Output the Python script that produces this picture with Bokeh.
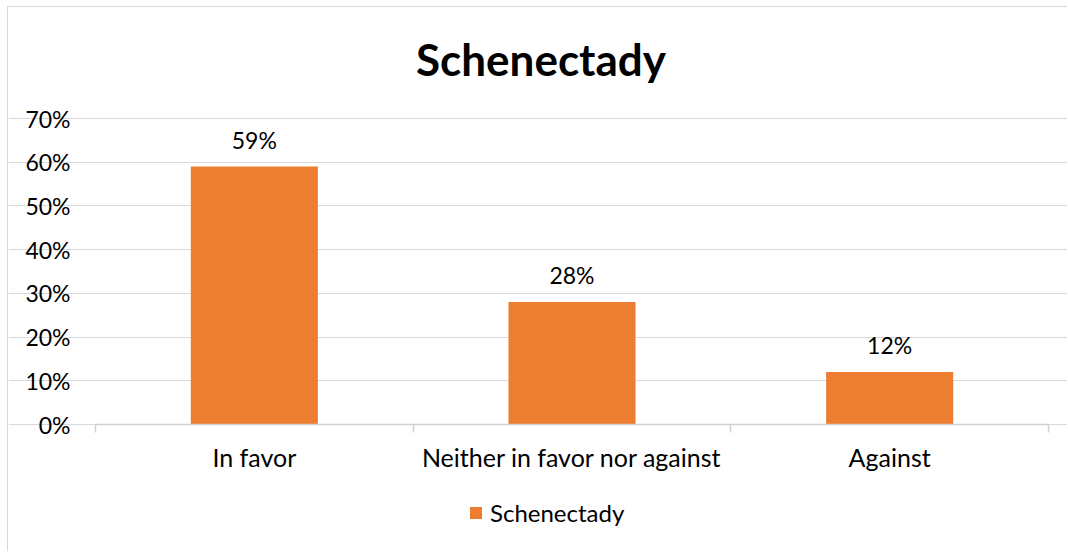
from bokeh.plotting import figure
from bokeh.models import (Range1d, FixedTicker, NumeralTickFormatter, ColumnDataSource,
                          LabelSet, Label, Legend, LegendItem, LinearAxis, Grid)
from bokeh.core.properties import value
from bokeh.embed import file_html
from bokeh.resources import INLINE

categories = ["In favor", "Neither in favor nor against", "Against"]
values = [0.59, 0.28, 0.12]
series_name = "Schenectady"
y_ticks = [0.0, 0.1, 0.2, 0.3, 0.4, 0.5, 0.6, 0.7]
y_max = 0.7

FONT = "Lato"
BAR = "#ED7D31"
GRID = "#d9d9d9"
AXIS = "#d0d0d0"

# layout (page pixels)
W, H = 1060, 545
ORG_X, ORG_Y = 8, 7            # canvas origin on page
PLOT_L, PLOT_R = 95, 1048      # plot area left/right
PLOT_T, PLOT_B = 118, 424      # plot area top/bottom
n = len(categories)
ppx = (PLOT_R - PLOT_L) / n
ppy = (PLOT_B - PLOT_T) / y_max
x_range = Range1d((ORG_X - PLOT_L) / ppx, (ORG_X + W - PLOT_L) / ppx)
y_range = Range1d((PLOT_B - (ORG_Y + H)) / ppy, (PLOT_B - ORG_Y) / ppy)

xs = [i + 0.5 for i in range(n)]
src = ColumnDataSource(dict(x=xs, top=values, cat=categories,
                            lab=[f"{round(v*100)}%" for v in values]))

p = figure(width=W, height=H, output_backend="svg", toolbar_location=None,
           x_range=x_range, y_range=y_range,
           min_border=0, x_axis_type=None, y_axis_type=None)
p.outline_line_color = None
p.styles = {"margin": "6px 0px 0px 7px", "border-left": "1px solid #d9d9d9",
            "border-top": "1px solid #d9d9d9"}

p.add_layout(Grid(dimension=1, ticker=FixedTicker(ticks=y_ticks), grid_line_color=GRID,
                  grid_line_width=1.2, bounds=(0, n)))

r = p.vbar(x="x", top="top", width=0.4, source=src, fill_color=BAR, line_color=None)

# y axis
ya = LinearAxis(ticker=FixedTicker(ticks=y_ticks), formatter=NumeralTickFormatter(format="0%"),
                fixed_location=0, bounds=(0, y_max))
ya.axis_line_color = None
ya.major_tick_line_color = None
ya.major_tick_out = 0
ya.major_tick_in = 0
ya.minor_tick_line_color = None
ya.major_label_standoff = 25
ya.major_label_text_font = FONT
ya.major_label_text_font_size = "23px"
ya.major_label_text_color = "#000000"
p.add_layout(ya, "left")

# x axis: labels at centers, tick marks at category boundaries
xa = LinearAxis(ticker=FixedTicker(ticks=xs, minor_ticks=list(range(n + 1))),
                fixed_location=0, bounds=(0, n))
xa.major_label_overrides = {x: c for x, c in zip(xs, categories)}
xa.axis_line_color = AXIS
xa.axis_line_width = 1.5
xa.major_tick_line_color = None
xa.major_tick_out = 0
xa.major_tick_in = 0
xa.minor_tick_line_color = AXIS
xa.minor_tick_line_width = 1.5
xa.minor_tick_out = 8
xa.minor_tick_in = 0
xa.major_label_standoff = 9
xa.major_label_text_font = FONT
xa.major_label_text_font_size = "25px"
xa.major_label_text_color = "#000000"
p.add_layout(xa, "below")

labels = LabelSet(x="x", y="top", text="lab", source=src, y_offset=18,
                  text_align="center", text_baseline="alphabetic",
                  text_font=value(FONT), text_font_size="23px", text_color="#000000")
p.add_layout(labels)

title = Label(x=n / 2, y=y_max, text=series_name, x_offset=-31, y_offset=60,
              text_align="center", text_baseline="alphabetic", text_font=FONT,
              text_font_size="44px", text_font_style="bold", text_color="#000000")
p.add_layout(title)

legend = Legend(items=[LegendItem(label=series_name, renderers=[r])], location=(460, 25),
                orientation="horizontal", border_line_color=None, background_fill_alpha=0,
                label_text_font=FONT, label_text_font_size="24px", label_text_color="#000000",
                glyph_width=15, glyph_height=15, label_standoff=7, padding=0, margin=0)
p.add_layout(legend)

open("out.html", "w").write(file_html(p, INLINE))
